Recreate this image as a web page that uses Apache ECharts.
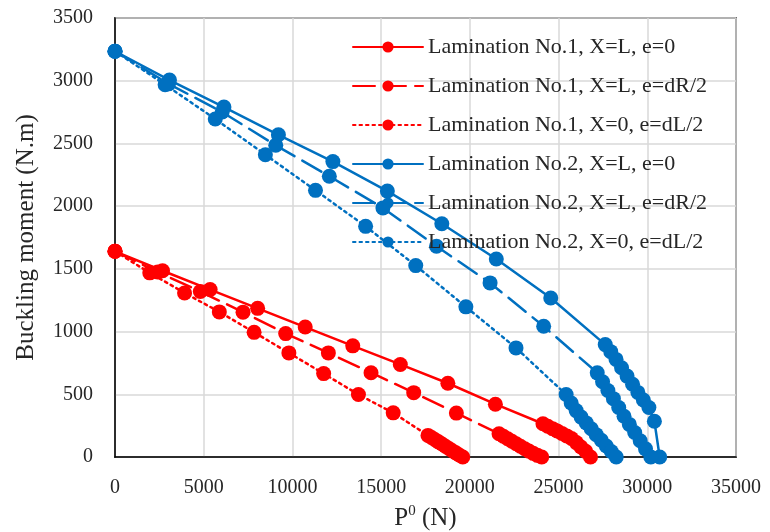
<!DOCTYPE html>
<html>
<head>
<meta charset="utf-8">
<script src="https://cdn.jsdelivr.net/npm/echarts@6/dist/echarts.min.js"></script>
<style>
  html, body { margin: 0; padding: 0; background: #fff; }
  #chart { width: 770px; height: 532px; }
</style>
</head>
<body>
<div id="chart"></div>
<script>
// Lamination No.1 (red)
var l1_eq0_P = [0, 2680, 5360, 8040, 10720, 13400, 16080, 18760, 21440, 24120, 24390, 24660, 24920, 25190, 25460, 25730, 26000, 26260, 26530, 26800];
var l1_eq0_M = [1640, 1485, 1335, 1185, 1036, 886, 738, 588, 421, 265, 245, 226, 208, 188, 168, 148, 115, 80, 45, 0];
var l1_dR_P = [0, 2405, 4810, 7215, 9620, 12025, 14430, 16835, 19240, 21645, 21890, 22130, 22370, 22610, 22850, 23090, 23330, 23570, 23810, 24050];
var l1_dR_M = [1640, 1475, 1319, 1155, 984, 830, 672, 513, 350, 185, 165, 146, 126, 106, 86, 66, 47, 29, 13, 0];
var l1_dL_P = [0, 1960, 3920, 5880, 7840, 9800, 11760, 13720, 15680, 17640, 17840, 18040, 18230, 18430, 18620, 18820, 19010, 19210, 19400, 19600];
var l1_dL_M = [1640, 1468, 1308, 1157, 994, 830, 665, 498, 352, 172, 155, 138, 121, 104, 86, 68, 50, 33, 16, 0];

// Lamination No.2 (blue)
var l2_eq0_P = [0, 3070, 6140, 9210, 12280, 15350, 18420, 21490, 24560, 27630, 27940, 28240, 28550, 28860, 29170, 29470, 29780, 30090, 30400, 30700];
var l2_eq0_M = [3235, 3005, 2790, 2569, 2355, 2120, 1860, 1579, 1268, 896, 840, 778, 712, 645, 580, 515, 455, 395, 285, 0];
var l2_dR_P = [0, 3020, 6040, 9060, 12080, 15100, 18120, 21140, 24160, 27180, 27480, 27780, 28090, 28390, 28690, 28990, 29290, 29600, 29900, 30200];
var l2_dR_M = [3235, 2975, 2750, 2485, 2238, 1986, 1680, 1388, 1042, 671, 600, 530, 465, 395, 325, 260, 195, 130, 65, 0];
var l2_dL_P = [0, 2825, 5650, 8475, 11300, 14125, 16950, 19775, 22600, 25425, 25710, 25990, 26270, 26560, 26840, 27120, 27410, 27690, 27970, 28250];
var l2_dL_M = [3235, 2968, 2695, 2410, 2126, 1839, 1526, 1197, 870, 498, 430, 370, 318, 272, 225, 178, 133, 88, 44, 0];

var seriesNames = [
  'Lamination No.1, X=L, e=0',
  'Lamination No.1, X=L, e=dR/2',
  'Lamination No.1, X=0, e=dL/2',
  'Lamination No.2, X=L, e=0',
  'Lamination No.2, X=L, e=dR/2',
  'Lamination No.2, X=0, e=dL/2'
];

var RED = '#ff0000';
var BLUE = '#0070c0';
var FONT = "'Times New Roman', 'Liberation Serif', serif";

function pairs(xs, ys) {
  var out = [];
  for (var i = 0; i < xs.length; i++) out.push([xs[i], ys[i]]);
  return out;
}

function line(name, color, dash, xs, ys) {
  return {
    name: name,
    type: 'line',
    data: pairs(xs, ys),
    symbol: 'circle',
    symbolSize: 15,
    showSymbol: true,
    animation: false,
    itemStyle: { color: color },
    lineStyle: { color: color, width: 2.5, type: dash, cap: 'round' }
  };
}

// plain tick numbers, no thousands separator
function plain(v) { return String(v); }

var chart = echarts.init(document.getElementById('chart'));

chart.setOption({
  backgroundColor: '#fff',
  animation: false,
  grid: {
    left: 115, right: 34, top: 18, bottom: 75,
    outerBoundsMode: 'none',
    show: true, borderColor: '#000', borderWidth: 1.5
  },
  legend: {
    orient: 'vertical',
    left: 347,
    top: 31,
    itemWidth: 70,
    itemHeight: 14,
    itemGap: 17,
    textStyle: { fontFamily: FONT, fontSize: 22, color: '#262626', lineHeight: 20 },
    data: seriesNames
  },
  xAxis: {
    type: 'value',
    min: 0, max: 35000, interval: 5000,
    name: '{a|P}{b|0}{a| (N)}',
    nameLocation: 'middle',
    nameGap: 47,
    nameTextStyle: {
      rich: {
        a: { fontFamily: FONT, fontSize: 25, color: '#262626', lineHeight: 28 },
        b: { fontFamily: FONT, fontSize: 15, color: '#262626', verticalAlign: 'top', lineHeight: 16 }
      }
    },
    axisLine: { lineStyle: { color: '#000', width: 1.5 } },
    axisTick: { show: false },
    axisLabel: { fontFamily: FONT, fontSize: 20, color: '#262626', margin: 21, formatter: plain },
    splitLine: { lineStyle: { color: '#d9d9d9', width: 1.5 } }
  },
  yAxis: {
    type: 'value',
    min: 0, max: 3500, interval: 500,
    name: 'Buckling moment (N.m)',
    nameLocation: 'middle',
    nameGap: 76,
    nameTextStyle: { fontFamily: FONT, fontSize: 25, color: '#262626' },
    axisLine: { show: true, lineStyle: { color: '#000', width: 1.5 } },
    axisTick: { show: false },
    axisLabel: { fontFamily: FONT, fontSize: 20, color: '#262626', margin: 22, formatter: plain },
    splitLine: { lineStyle: { color: '#d9d9d9', width: 1.5 } }
  },
  series: [
    line(seriesNames[0], RED, 'solid', l1_eq0_P, l1_eq0_M),
    line(seriesNames[1], RED, [22, 9], l1_dR_P, l1_dR_M),
    line(seriesNames[2], RED, [2.5, 4], l1_dL_P, l1_dL_M),
    line(seriesNames[3], BLUE, 'solid', l2_eq0_P, l2_eq0_M),
    line(seriesNames[4], BLUE, [22, 9], l2_dR_P, l2_dR_M),
    line(seriesNames[5], BLUE, [2.5, 4], l2_dL_P, l2_dL_M)
  ]
});
</script>
</body>
</html>
